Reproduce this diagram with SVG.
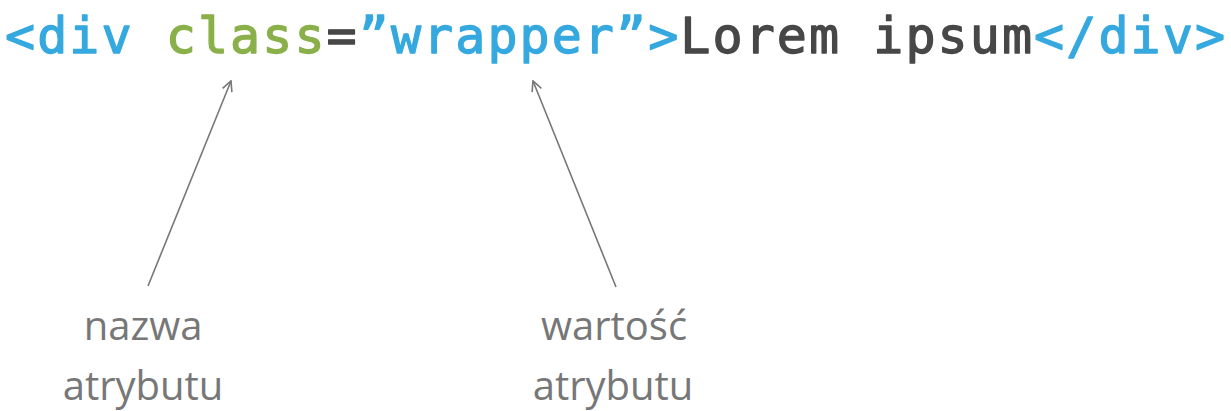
<svg xmlns="http://www.w3.org/2000/svg" width="1231" height="411" viewBox="0 0 1231 411">
  <style>
    .code { font-family: "DejaVu Sans Mono", "Liberation Mono", monospace; font-size: 50px; font-weight: normal; stroke-width: 1.3px; stroke-linejoin: round; }
    .tag { fill: #35a9df; stroke: #35a9df; }
    .attr { fill: #8ab04a; stroke: #8ab04a; }
    .plain { fill: #474747; stroke: #474747; }
    .label { font-family: "Open Sans", "Liberation Sans", sans-serif; font-size: 40px; fill: #777777; text-anchor: middle; }
    .pointer { stroke: #777777; stroke-width: 1.6; fill: none; }
  </style>
  <defs>
    <marker id="open-arrow" viewBox="0 0 12 12" refX="11" refY="6" markerWidth="12" markerHeight="12" markerUnits="userSpaceOnUse" orient="auto">
      <path d="M1,1 L11,6 L1,11" fill="none" stroke="#777777" stroke-width="1.6"/>
    </marker>
  </defs>

  <g id="code-line">
    <text class="code" x="5" y="53" textLength="1220" lengthAdjust="spacing"><tspan class="tag">&lt;div </tspan><tspan class="attr">class</tspan><tspan class="plain">=</tspan><tspan class="tag">”wrapper”&gt;</tspan><tspan class="plain">Lorem ipsum</tspan><tspan class="tag">&lt;/div&gt;</tspan></text>
  </g>

  <g id="connectors">
    <line class="pointer" x1="148" y1="286" x2="231" y2="81" marker-end="url(#open-arrow)"/>
    <line class="pointer" x1="616" y1="287" x2="533" y2="81" marker-end="url(#open-arrow)"/>
  </g>

  <g id="attr-name-label">
    <text class="label" x="143" y="340">nazwa</text>
    <text class="label" x="143" y="400">atrybutu</text>
  </g>

  <g id="attr-value-label">
    <text class="label" x="614" y="340">wartość</text>
    <text class="label" x="613" y="400">atrybutu</text>
  </g>
</svg>
